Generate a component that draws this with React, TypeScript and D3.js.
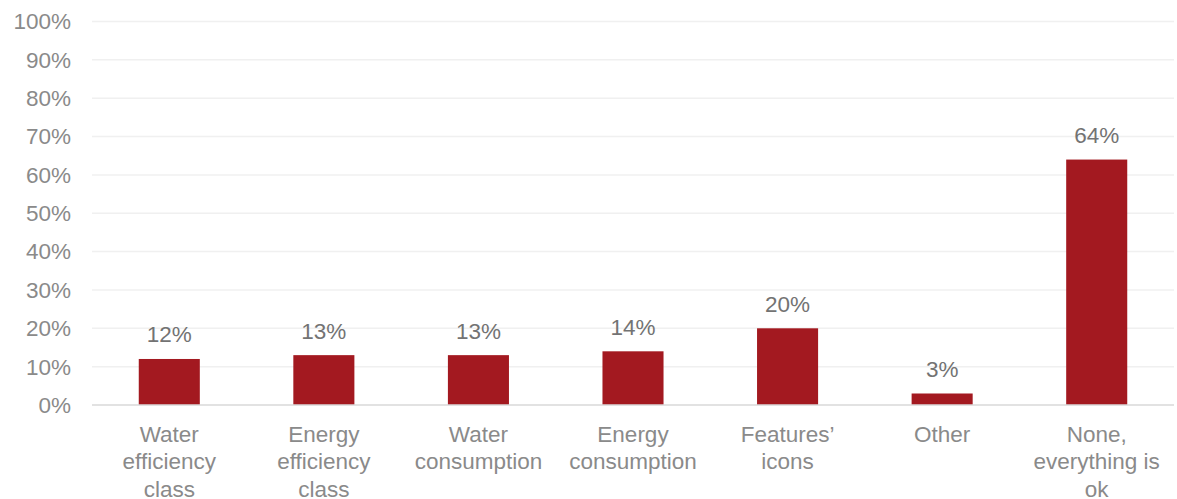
import React from "react";
import * as d3 from "d3";

const categories: string[][] = [
  ["Water", "efficiency", "class"],
  ["Energy", "efficiency", "class"],
  ["Water", "consumption"],
  ["Energy", "consumption"],
  ["Features’", "icons"],
  ["Other"],
  ["None,", "everything is", "ok"],
];
const values: number[] = [12, 13, 13, 14, 20, 3, 64];
const yTicks: number[] = [0, 10, 20, 30, 40, 50, 60, 70, 80, 90, 100];

const W = 1177;
const H = 499;
const FONT = "'Liberation Sans', Arial, sans-serif";
const FS = 22.5;

export default function App() {
  const x = d3
    .scaleBand<number>()
    .domain(d3.range(values.length))
    .range([92, 1174])
    .paddingInner(0.605)
    .paddingOuter(0.3025);
  const y = d3.scaleLinear().domain([0, 100]).range([405, 21.5]);

  return (
    <svg width={W} height={H} style={{ position: "absolute", left: 0, top: 0 }}>
      <rect width={W} height={H} fill="#fff" />
      {yTicks.map((t) => (
        <g key={t}>
          {t > 0 && (
            <line x1={92} x2={1174} y1={y(t)} y2={y(t)} stroke="#F0F0F0" strokeWidth={1.5} />
          )}
          <text
            x={71}
            y={y(t)}
            dy="0.35em"
            textAnchor="end"
            fontFamily={FONT}
            fontSize={FS}
            fill="#8a8a8a"
          >
            {t}%
          </text>
        </g>
      ))}
      {values.map((v, i) => (
        <g key={i}>
          <rect
            x={x(i)}
            y={y(v)}
            width={x.bandwidth()}
            height={y(0) - y(v)}
            fill="#A31920"
          />
          <text
            x={(x(i) as number) + x.bandwidth() / 2}
            y={y(v) - 24.5}
            dy="0.35em"
            textAnchor="middle"
            fontFamily={FONT}
            fontSize={FS}
            fill="#737373"
          >
            {v}%
          </text>
          {categories[i].map((line, j) => (
            <text
              key={j}
              x={(x(i) as number) + x.bandwidth() / 2}
              y={434 + j * 27.5}
              dy="0.35em"
              textAnchor="middle"
              fontFamily={FONT}
              fontSize={FS}
              fill="#8a8a8a"
            >
              {line}
            </text>
          ))}
        </g>
      ))}
      <line x1={92} x2={1174} y1={y(0)} y2={y(0)} stroke="#D9D9D9" strokeWidth={1.5} />
    </svg>
  );
}
